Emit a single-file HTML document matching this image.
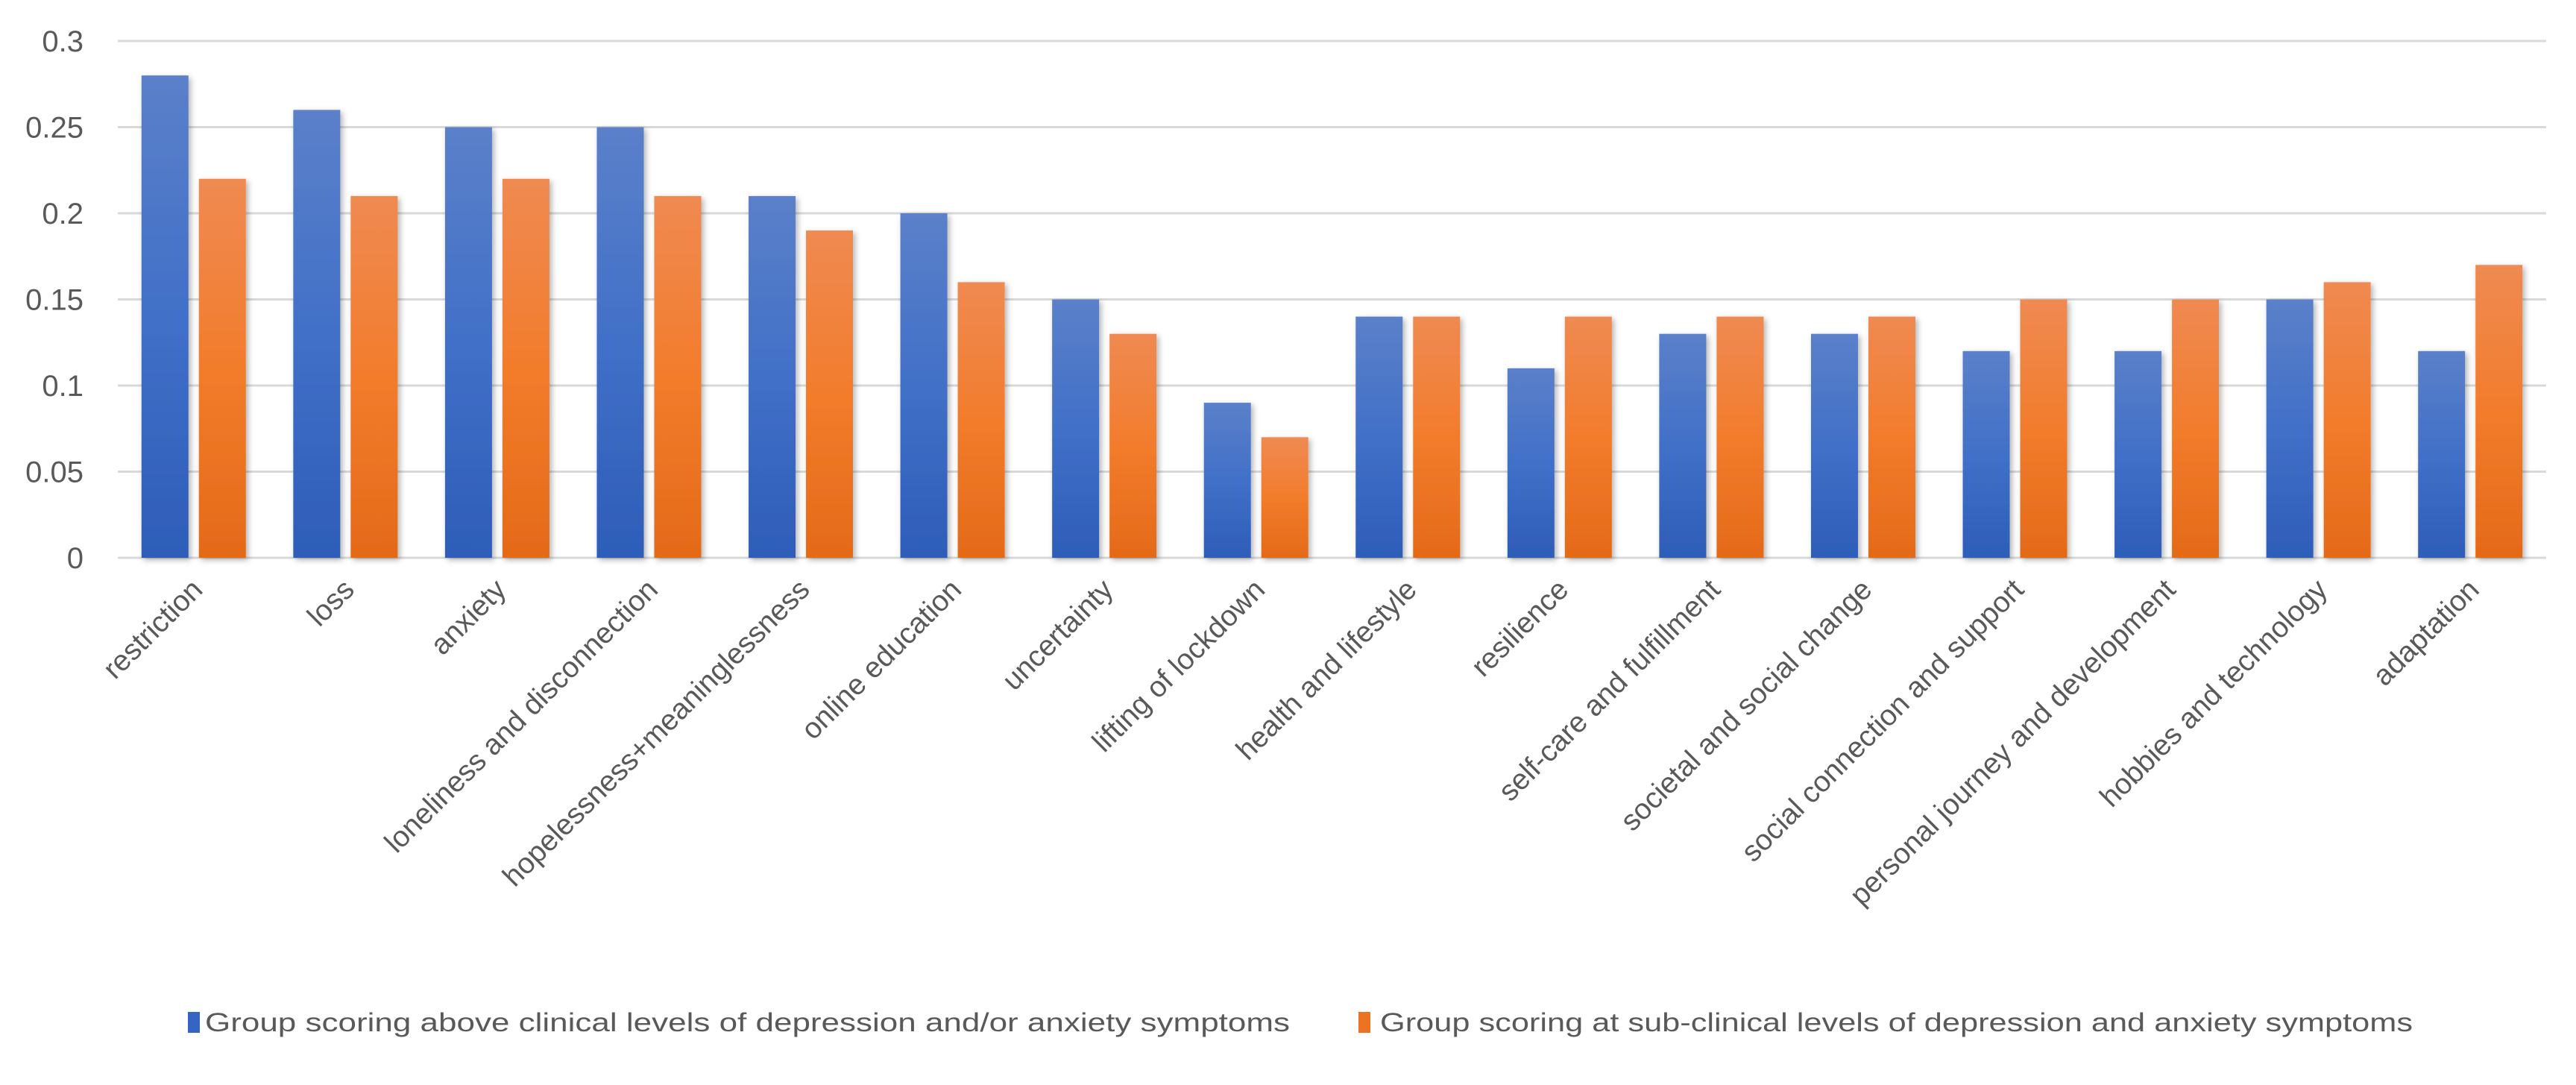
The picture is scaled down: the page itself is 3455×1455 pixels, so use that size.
<!DOCTYPE html>
<html><head><meta charset="utf-8"><style>
html,body{margin:0;padding:0;background:#fff;}
svg{display:block;font-family:"Liberation Sans",sans-serif;}
</style></head><body>
<svg id="chart" width="3455" height="1455" viewBox="0 0 3455 1455" xmlns="http://www.w3.org/2000/svg">
<defs>
<linearGradient id="gb" x1="0" y1="0" x2="0" y2="1"><stop offset="0" stop-color="#5b80c9"/><stop offset="0.5" stop-color="#4170c8"/><stop offset="1" stop-color="#2d5db8"/></linearGradient>
<linearGradient id="go" x1="0" y1="0" x2="0" y2="1"><stop offset="0" stop-color="#ef8a52"/><stop offset="0.5" stop-color="#f27c2c"/><stop offset="1" stop-color="#e46a18"/></linearGradient>
<filter id="sh" x="-20%" y="-5%" width="140%" height="110%"><feDropShadow dx="3" dy="3" stdDeviation="4" flood-color="#000" flood-opacity="0.3"/></filter>
</defs>
<g id="grid"></g>
<g id="yticks"></g>
<g id="bars"></g>
<g id="xlabels"></g>
<g>
  <rect x="252" y="1357" width="16" height="28" fill="#3565c3"/>
  <text x="275" y="1383" font-size="35" fill="#595959" textLength="1455" lengthAdjust="spacingAndGlyphs">Group scoring above clinical levels of depression and/or anxiety symptoms</text>
  <rect x="1822" y="1357" width="16" height="28" fill="#ec7322"/>
  <text x="1851" y="1383" font-size="35" fill="#595959" textLength="1385" lengthAdjust="spacingAndGlyphs">Group scoring at sub-clinical levels of depression and anxiety symptoms</text>
</g>
</svg>
<script>
const categories = ["restriction","loss","anxiety","loneliness and disconnection","hopelessness+meaninglessness","online education","uncertainty","lifting of lockdown","health and lifestyle","resilience","self-care and fulfillment","societal and social change","social connection and support","personal journey and development","hobbies and technology","adaptation"];
const clinical = [0.28,0.26,0.25,0.25,0.21,0.20,0.15,0.09,0.14,0.11,0.13,0.13,0.12,0.12,0.15,0.12];
const subclinical = [0.22,0.21,0.22,0.21,0.19,0.16,0.13,0.07,0.14,0.14,0.14,0.14,0.15,0.15,0.16,0.17];
const yTicks = [0,0.05,0.1,0.15,0.2,0.25,0.3];
const yTickLabels = ["0","0.05","0.1","0.15","0.2","0.25","0.3"];

const NS="http://www.w3.org/2000/svg";
const X0=158, X1=3415, Y0=748, Y1=55, YMAX=0.3;
const groupW=(X1-X0)/categories.length;
function y(v){return Y0-(v/YMAX)*(Y0-Y1);}
function gx(i){return X0+i*groupW;}
function mk(tag,attrs,parent){const e=document.createElementNS(NS,tag);for(const k in attrs)e.setAttribute(k,attrs[k]);parent.appendChild(e);return e;}
const grid=document.getElementById('grid'), yt=document.getElementById('yticks'), bars=document.getElementById('bars'), xl=document.getElementById('xlabels');
yTicks.forEach((t,i)=>{
  const l=mk('line',{x1:X0,x2:X1,y1:y(t),y2:y(t),stroke:'#d9d9d9','stroke-width':3},grid);
  
  
  const tx=mk('text',{x:112,y:y(t)+14,'font-size':40,fill:'#595959','text-anchor':'end'},yt);
  tx.textContent=yTickLabels[i];
  
  
});
const bw=63, gap=14, off=(groupW-2*bw-gap)/2;
categories.forEach((c,i)=>{
  const bx=gx(i)+off;
  const b1=mk('rect',{x:bx,y:y(clinical[i]),width:bw,height:Y0-y(clinical[i]),fill:'url(#gb)',filter:'url(#sh)'},bars);
  
  
  const b2=mk('rect',{x:bx+bw+gap,y:y(subclinical[i]),width:bw,height:Y0-y(subclinical[i]),fill:'url(#go)',filter:'url(#sh)'},bars);
  
  
  const cx=gx(i)+groupW/2+14, cy=793;
  const t=mk('text',{x:cx,y:cy,'font-size':39,fill:'#595959','text-anchor':'end',transform:`rotate(-45 ${cx} ${cy})`},xl);
  t.textContent=c;
  
  
});
</script>
</body></html>
